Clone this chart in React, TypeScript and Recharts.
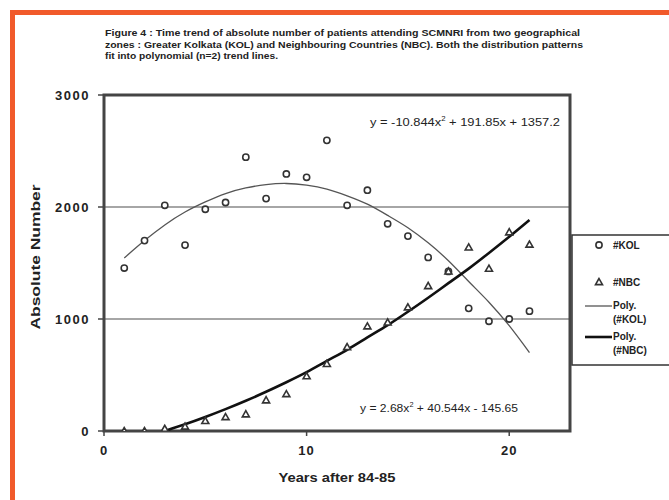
import React from 'react';
import { ComposedChart, Line, XAxis, YAxis, CartesianGrid, ReferenceArea } from 'recharts';

const years = [1, 2, 3, 4, 5, 6, 7, 8, 9, 10, 11, 12, 13, 14, 15, 16, 17, 18, 19, 20, 21];
const kolPatients = [1455, 1700, 2015, 1660, 1980, 2040, 2445, 2075, 2295, 2265, 2595, 2015, 2150, 1850, 1740, 1550, 1425, 1095, 980, 1000, 1070];
const nbcPatients = [0, 0, 20, 40, 90, 125, 150, 275, 330, 490, 600, 750, 935, 970, 1105, 1295, 1425, 1640, 1450, 1775, 1665];
const kolTrend = [1545, 1700, 1840, 1955, 2045, 2120, 2170, 2200, 2210, 2195, 2160, 2100, 2025, 1925, 1815, 1680, 1520, 1335, 1150, 940, 700];
const nbcTrend = [null, null, 0, 60, 125, 195, 270, 350, 435, 525, 625, 725, 835, 945, 1065, 1190, 1320, 1450, 1590, 1735, 1885];

const xTicks = [0, 10, 20];
const yTicks = [0, 1000, 2000, 3000];

const titleLines = [
  'Figure 4 : Time trend of absolute number of patients attending SCMNRI from two geographical',
  'zones : Greater Kolkata (KOL) and Neighbouring Countries (NBC). Both the distribution patterns',
  'fit into polynomial (n=2) trend lines.',
];

const rows = years.map((x, i) => ({
  x,
  kol: kolPatients[i],
  nbc: nbcPatients[i],
  kolFit: kolTrend[i],
  nbcFit: nbcTrend[i],
}));

const FONT = '"Liberation Sans", Arial, sans-serif';
const INK = '#333';

const CircleDot = (props: any) => {
  const { cx, cy, index } = props;
  if (cx == null || cy == null) return <g key={`c${index}`} />;
  return <circle key={`c${index}`} cx={cx} cy={cy} r={3.1} fill="#fff" stroke={INK} strokeWidth={1.6} />;
};

const TriDot = (props: any) => {
  const { cx, cy, index } = props;
  if (cx == null || cy == null) return <g key={`t${index}`} />;
  const s = 3.5;
  return (
    <polygon
      key={`t${index}`}
      points={`${cx},${cy - s} ${cx - s},${cy + s * 0.75} ${cx + s},${cy + s * 0.75}`}
      fill="#fff"
      stroke={INK}
      strokeWidth={1.6}
    />
  );
};

export default function App() {
  return (
    <div
      style={{
        position: 'absolute',
        left: 0,
        top: 0,
        width: 669,
        height: 500,
        overflow: 'hidden',
        background: '#fff',
        fontFamily: FONT,
      }}
    >
      <div
        style={{
          position: 'absolute',
          left: 10,
          top: 10,
          width: 700,
          height: 600,
          borderTop: '5px solid #f15a2b',
          borderLeft: '5px solid #f15a2b',
        }}
      />
      <div style={{ position: 'absolute', left: 0, top: 0 }}>
        <ComposedChart
          width={669}
          height={500}
          data={rows}
          margin={{ top: 95, right: 99, bottom: 39, left: 44 }}
        >
          <CartesianGrid vertical={false} stroke="#888" strokeWidth={1.5} />
          <ReferenceArea x1={0} x2={23} y1={0} y2={3000} fill="none" stroke="#444" strokeWidth={3} ifOverflow="visible" />
          <XAxis
            type="number"
            dataKey="x"
            domain={[0, 23]}
            ticks={xTicks}
            axisLine={false}
            tickLine={{ stroke: '#444', strokeWidth: 1.5 }}
            tickSize={5}
            tickMargin={10}
            height={30}
            tick={{ fill: '#222', fontSize: 13, fontWeight: 'bold', fontFamily: FONT, letterSpacing: 1 }}
            allowDataOverflow
          />
          <YAxis
            type="number"
            domain={[0, 3000]}
            ticks={yTicks}
            axisLine={false}
            tickLine={{ stroke: '#444', strokeWidth: 1.5 }}
            tickSize={6}
            tickMargin={8}
            width={60}
            tick={{ fill: '#222', fontSize: 13, fontWeight: 'bold', fontFamily: FONT, letterSpacing: 1.5 }}
            allowDataOverflow
          />
          <Line type="natural" dataKey="kolFit" stroke="#555" strokeWidth={1.3} dot={false} isAnimationActive={false} />
          <Line type="natural" dataKey="nbcFit" stroke="#111" strokeWidth={2.6} dot={false} isAnimationActive={false} />
          <Line dataKey="kol" stroke="none" dot={CircleDot} activeDot={false} isAnimationActive={false} />
          <Line dataKey="nbc" stroke="none" dot={TriDot} activeDot={false} isAnimationActive={false} />
        </ComposedChart>
      </div>
      <svg
        width={669}
        height={500}
        style={{ position: 'absolute', left: 0, top: 0, pointerEvents: 'none' }}
        fontFamily={FONT}
      >
        <text x={105} y={36} fontSize={9.5} fontWeight="bold" fill="#222" textLength={475} lengthAdjust="spacingAndGlyphs">
          {titleLines[0]}
        </text>
        <text x={105} y={48} fontSize={9.5} fontWeight="bold" fill="#222" textLength={478} lengthAdjust="spacingAndGlyphs">
          {titleLines[1]}
        </text>
        <text x={105} y={59} fontSize={9.5} fontWeight="bold" fill="#222" textLength={173} lengthAdjust="spacingAndGlyphs">
          {titleLines[2]}
        </text>

        <text x={370} y={126} fontSize={11.5} fill="#222" textLength={190} lengthAdjust="spacingAndGlyphs">
          y = -10.844x<tspan dy={-5} fontSize={7}>2</tspan>
          <tspan dy={5}> + 191.85x + 1357.2</tspan>
        </text>
        <text x={360} y={412} fontSize={11.5} fill="#222" textLength={158} lengthAdjust="spacingAndGlyphs">
          y = 2.68x<tspan dy={-5} fontSize={7}>2</tspan>
          <tspan dy={5}> + 40.544x - 145.65</tspan>
        </text>

        <text
          x={0}
          y={0}
          transform="translate(40,257) rotate(-90)"
          textAnchor="middle"
          fontSize={13}
          fontWeight="bold"
          fill="#222"
          textLength={145}
          lengthAdjust="spacingAndGlyphs"
        >
          Absolute Number
        </text>
        <text x={337} y={482} textAnchor="middle" fontSize={13} fontWeight="bold" fill="#222" textLength={117} lengthAdjust="spacingAndGlyphs">
          Years after 84-85
        </text>

        <rect x={572} y={235} width={120} height={130} fill="#fff" stroke="#333" strokeWidth={1.5} />
        <circle cx={599} cy={245} r={3.1} fill="#fff" stroke={INK} strokeWidth={1.6} />
        <text x={613} y={249} fontSize={10} fontWeight="bold" fill="#222">#KOL</text>
        <polygon points="599,278.5 595.5,284.6 602.5,284.6" fill="#fff" stroke={INK} strokeWidth={1.6} />
        <text x={613} y={286} fontSize={10} fontWeight="bold" fill="#222">#NBC</text>
        <line x1={585} x2={612} y1={306} y2={306} stroke="#555" strokeWidth={1.3} />
        <text x={613} y={309} fontSize={10} fontWeight="bold" fill="#222">Poly.</text>
        <text x={613} y={323} fontSize={10} fontWeight="bold" fill="#222">(#KOL)</text>
        <line x1={585} x2={612} y1={337} y2={337} stroke="#111" strokeWidth={2.6} />
        <text x={613} y={340} fontSize={10} fontWeight="bold" fill="#222">Poly.</text>
        <text x={613} y={354} fontSize={10} fontWeight="bold" fill="#222">(#NBC)</text>
      </svg>
    </div>
  );
}
